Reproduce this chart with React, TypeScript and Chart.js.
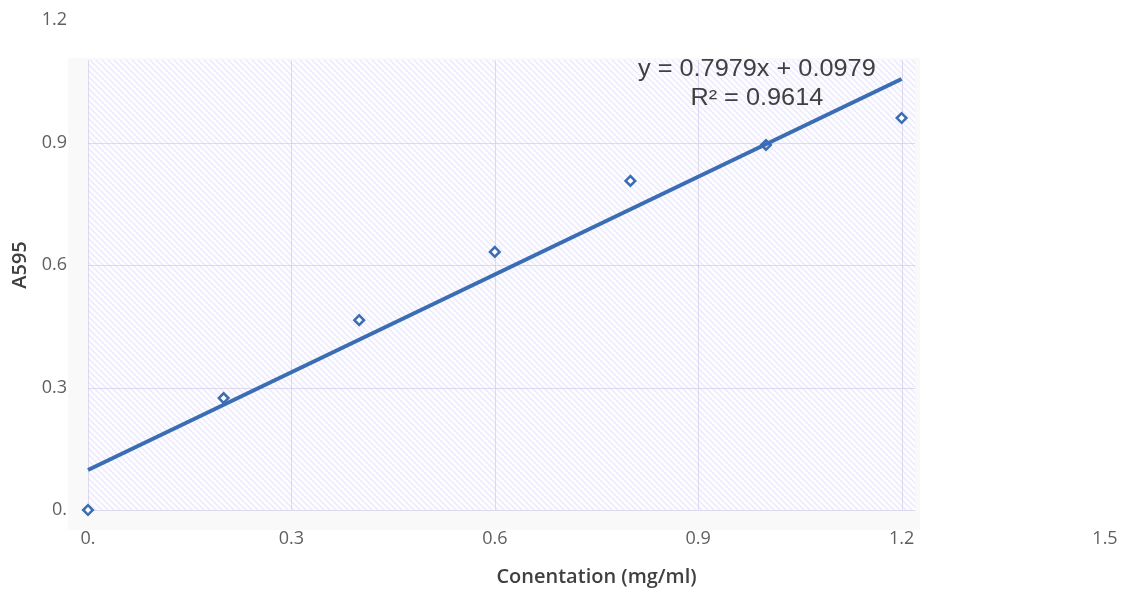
import React, { useEffect, useRef } from "react";
import { Chart, registerables } from "chart.js";

Chart.register(...registerables);

// ---- data ----
const concentration = [0, 0.2, 0.4, 0.6, 0.8, 1.0, 1.2];
const absorbance = [0.0, 0.274, 0.465, 0.632, 0.806, 0.894, 0.96];

const trendSlope = 0.7979;
const trendIntercept = 0.0979;
const trendXRange = [0, 1.2];
const equationLines = ["y = 0.7979x + 0.0979", "R\u00b2 = 0.9614"];

const xTickValues = [0, 0.3, 0.6, 0.9, 1.2, 1.5];
const xTickLabels = ["0.", "0.3", "0.6", "0.9", "1.2", "1.5"];
const yTickValues = [0, 0.3, 0.6, 0.9, 1.2];
const yTickLabels = ["0.", "0.3", "0.6", "0.9", "1.2"];

const xTitle = "Conentation (mg/ml)";
const yTitle = "A595";

// ---- style constants (plot "image" region in data units) ----
const OUTER = { x0: -0.0295, x1: 1.227, y0: -0.049, y1: 1.107 };
const HATCH = { x0: 0, x1: 1.22, y0: 0, y1: 1.102 };
const gridXValues = [0.3, 0.6, 0.9, 1.2];
const gridYValues = [0.3, 0.6, 0.9];
const BLUE = "#3a6db3";

function makePattern(ctx: CanvasRenderingContext2D) {
  const s = 6;
  const c = document.createElement("canvas");
  c.width = s;
  c.height = s;
  const p = c.getContext("2d")!;
  p.fillStyle = "#fdfdff";
  p.fillRect(0, 0, s, s);
  p.strokeStyle = "rgba(165,165,235,0.22)";
  p.lineWidth = 1.3;
  p.beginPath();
  p.moveTo(-1, -1);
  p.lineTo(s + 1, s + 1);
  p.moveTo(-1, s - 1);
  p.lineTo(1, s + 1);
  p.moveTo(s - 1, -1);
  p.lineTo(s + 1, 1);
  p.stroke();
  return ctx.createPattern(c, "repeat");
}

const backgroundPlugin = {
  id: "hatchBackground",
  beforeDatasetsDraw(chart: any) {
    const { ctx, scales } = chart;
    const xs = scales.x;
    const ys = scales.y;
    const px = (v: number) => xs.getPixelForValue(v);
    const py = (v: number) => ys.getPixelForValue(v);
    ctx.save();
    ctx.fillStyle = "#f9f9f9";
    ctx.fillRect(px(OUTER.x0), py(OUTER.y1), px(OUTER.x1) - px(OUTER.x0), py(OUTER.y0) - py(OUTER.y1));
    const pat = makePattern(ctx);
    ctx.fillStyle = pat || "#f4f4ff";
    ctx.fillRect(px(HATCH.x0), py(HATCH.y1), px(HATCH.x1) - px(HATCH.x0), py(HATCH.y0) - py(HATCH.y1));
    ctx.strokeStyle = "rgba(205,195,230,0.6)";
    ctx.lineWidth = 1;
    ctx.beginPath();
    for (const gx of gridXValues) {
      const x = Math.round(px(gx)) + 0.5;
      ctx.moveTo(x, py(HATCH.y1));
      ctx.lineTo(x, py(HATCH.y0));
    }
    for (const gy of gridYValues) {
      const y = Math.round(py(gy)) + 0.5;
      ctx.moveTo(px(HATCH.x0), y);
      ctx.lineTo(px(HATCH.x1), y);
    }
    ctx.moveTo(Math.round(px(HATCH.x0)) + 0.5, py(HATCH.y1));
    ctx.lineTo(Math.round(px(HATCH.x0)) + 0.5, py(HATCH.y0));
    ctx.moveTo(px(HATCH.x0), Math.round(py(HATCH.y0)) + 0.5);
    ctx.lineTo(px(HATCH.x1), Math.round(py(HATCH.y0)) + 0.5);
    ctx.stroke();
    ctx.restore();
  },
  afterDatasetsDraw(chart: any) {
    const { ctx, scales } = chart;
    const cx = scales.x.getPixelForValue(0.9865);
    const yTop = scales.y.getPixelForValue(1.2);
    ctx.save();
    ctx.fillStyle = "#404040";
    ctx.font = "23px 'Liberation Sans', Arial, sans-serif";
    ctx.textAlign = "center";
    ctx.textBaseline = "middle";
    equationLines.forEach((line, i) => {
      ctx.save();
      ctx.translate(cx, yTop + 50 + i * 29);
      ctx.scale(1.1, 1);
      ctx.fillText(line, 0, 0);
      ctx.restore();
    });
    ctx.restore();
  },
};

export default function App() {
  const ref = useRef<HTMLCanvasElement | null>(null);

  useEffect(() => {
    if (!ref.current) return;
    const scatterData = concentration.map((x, i) => ({ x, y: absorbance[i] }));
    const trendData = trendXRange.map((x) => ({ x, y: trendSlope * x + trendIntercept }));
    const tickFont = { family: "'Open Sans', sans-serif", size: 18, weight: 400 as any };
    const titleFont = { family: "'Open Sans', sans-serif", size: 20, weight: 600 as any };

    const chart = new Chart(ref.current, {
      type: "scatter",
      data: {
        datasets: [
          {
            type: "line",
            label: "Trend",
            data: trendData,
            borderColor: BLUE,
            borderWidth: 4,
            pointRadius: 0,
            fill: false,
            clip: false as any,
            order: 0,
          } as any,
          {
            label: "A595",
            data: scatterData,
            pointStyle: "rectRot",
            pointRadius: 4.8,
            pointBorderWidth: 2.5,
            pointBackgroundColor: "#ffffff",
            pointBorderColor: BLUE,
            backgroundColor: "#ffffff",
            borderColor: BLUE,
            clip: false as any,
            order: 1,
          } as any,
        ],
      },
      options: {
        animation: false,
        responsive: false,
        layout: { padding: { top: 12, right: 19, bottom: 0, left: 0 } },
        plugins: {
          legend: { display: false },
          tooltip: { enabled: false },
        },
        scales: {
          x: {
            type: "linear",
            min: 0,
            max: 1.5,
            afterBuildTicks: (s: any) => {
              s.ticks = xTickValues.map((v) => ({ value: v }));
            },
            afterFit: (s: any) => {
              s.height = 80;
              s.paddingLeft = 0;
              s.paddingRight = 0;
            },
            grid: { display: false, drawTicks: false },
            border: { display: false },
            ticks: {
              padding: 18,
              color: "#5f5f5f",
              font: tickFont,
              maxRotation: 0,
              autoSkip: false,
              callback: (_v: any, i: number) => xTickLabels[i],
            },
            title: {
              display: true,
              text: xTitle,
              color: "#404040",
              font: titleFont,
              padding: { top: 2, bottom: 1 },
            },
          },
          y: {
            type: "linear",
            min: 0,
            max: 1.2,
            afterBuildTicks: (s: any) => {
              s.ticks = yTickValues.map((v) => ({ value: v }));
            },
            afterFit: (s: any) => {
              s.width = 80;
              s.paddingTop = 0;
              s.paddingBottom = 0;
            },
            grid: { display: false, drawTicks: false },
            border: { display: false },
            ticks: {
              padding: 21,
              color: "#5f5f5f",
              font: tickFont,
              autoSkip: false,
              callback: (_v: any, i: number) => yTickLabels[i],
            },
            title: {
              display: true,
              text: yTitle,
              color: "#404040",
              font: titleFont,
              padding: { top: 0, bottom: 0 },
            },
          },
        },
      },
      plugins: [backgroundPlugin],
    });
    return () => chart.destroy();
  }, []);

  return <canvas ref={ref} width={1116} height={582} style={{ display: "block" }} />;
}
